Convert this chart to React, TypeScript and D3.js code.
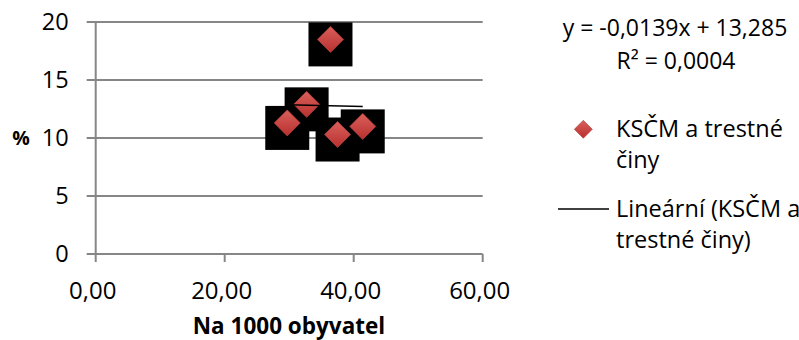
import * as d3 from "d3";

// points: crimes per 1000 inhabitants vs KSČM vote %
const xValues = [36.4, 32.7, 29.7, 37.5, 41.4];
const yValues = [18.5, 12.9, 11.3, 10.3, 11.0];
const xTicks = [0, 20, 40, 60];
const yTicks = [0, 5, 10, 15, 20];
const slope = -0.0139;
const intercept = 13.285;
const equationLabel = "y = -0,0139x + 13,285";
const r2Label = "R² = 0,0004";
const seriesName = ["KSČM a trestné", "činy"];
const trendName = ["Lineární (KSČM a", "trestné činy)"];

const W = 799;
const H = 340;
const FONT = "'Open Sans', sans-serif";
const GRID = "#868686";
const TEXT = "#000";

const diamond = (cx: number, cy: number, r: number) =>
  `M${cx},${cy - r}L${cx + r},${cy}L${cx},${cy + r}L${cx - r},${cy}Z`;

export default function App() {
  const x = d3.scaleLinear().domain([0, 60]).range([95.7, 482.7]);
  const y = d3.scaleLinear().domain([0, 20]).range([254, 22]);
  const points = xValues.map((v, i) => ({ x: v, y: yValues[i] }));
  const [xMin, xMax] = d3.extent(xValues) as [number, number];
  const trend = d3
    .line<number>()
    .x((d) => x(d))
    .y((d) => y(slope * d + intercept));

  return (
    <div style={{ position: "absolute", left: 0, top: 0 }}>
      <svg width={W} height={H} style={{ display: "block", fontFamily: FONT }}>
        <defs>
          <linearGradient id="mk" x1="0" y1="0" x2="0" y2="1">
            <stop offset="0" stopColor="#d9605c" />
            <stop offset="1" stopColor="#b8302e" />
          </linearGradient>
        </defs>
        <rect width={W} height={H} fill="#fff" />

        {/* gridlines with left tick stubs */}
        {yTicks.map((t) => (
          <line key={t} x1={x(0) - 9} x2={x(60)} y1={y(t)} y2={y(t)} stroke={GRID} strokeWidth={2} />
        ))}
        <line x1={x(0)} x2={x(0)} y1={y(20)} y2={y(0)} stroke={GRID} strokeWidth={2} />
        {xTicks.map((t) => (
          <line key={t} x1={x(t)} x2={x(t)} y1={y(0)} y2={y(0) + 8} stroke={GRID} strokeWidth={2} />
        ))}

        {yTicks.map((t) => (
          <text key={t} x={x(0) - 27} y={y(t)} dy="0.35em" textAnchor="end" fontSize={23.5} fill={TEXT}>
            {t}
          </text>
        ))}
        {xTicks.map((t) => (
          <text key={t} x={x(t) - 3} y={y(0) + 45} textAnchor="middle" fontSize={24} fill={TEXT}>
            {d3.format(".2f")(t).replace(".", ",")}
          </text>
        ))}

        <text x={21} y={y(10)} dy="0.35em" textAnchor="middle" fontSize={19.5} fontWeight="bold" fill={TEXT}>
          %
        </text>
        <text x={289} y={334} textAnchor="middle" fontSize={22.5} fontWeight="bold" fill={TEXT}>
          Na 1000 obyvatel
        </text>

        {/* black label boxes */}
        {points.map((p, i) => (
          <rect key={i} x={x(p.x) - 22} y={y(p.y) - 17} width={44} height={44} fill="#000" />
        ))}
        {points.map((p, i) => (
          <path key={i} d={diamond(x(p.x), y(p.y), 13)} fill="url(#mk)" stroke="#b0403d" strokeWidth={0.8} />
        ))}
        <path d={trend([xMin, xMax]) ?? ""} fill="none" stroke="#000" strokeWidth={1.5} />

        {/* equation */}
        <text x={675} y={28} dy="0.35em" textAnchor="middle" fontSize={23} fill={TEXT}>
          {equationLabel}
        </text>
        <text x={676} y={61} dy="0.35em" textAnchor="middle" fontSize={23} fill={TEXT}>
          {r2Label}
        </text>

        {/* legend */}
        <path d={diamond(583.3, 129.3, 9)} fill="url(#mk)" stroke="#b0403d" strokeWidth={0.6} />
        {seriesName.map((s, i) => (
          <text key={s} x={616} y={129 + i * 31} dy="0.35em" fontSize={23.5} fill={TEXT}>
            {s}
          </text>
        ))}
        <line x1={558} x2={609} y1={209} y2={209} stroke="#000" strokeWidth={1.5} />
        {trendName.map((s, i) => (
          <text key={s} x={616} y={209 + i * 31} dy="0.35em" fontSize={23.5} fill={TEXT}>
            {s}
          </text>
        ))}
      </svg>
    </div>
  );
}
